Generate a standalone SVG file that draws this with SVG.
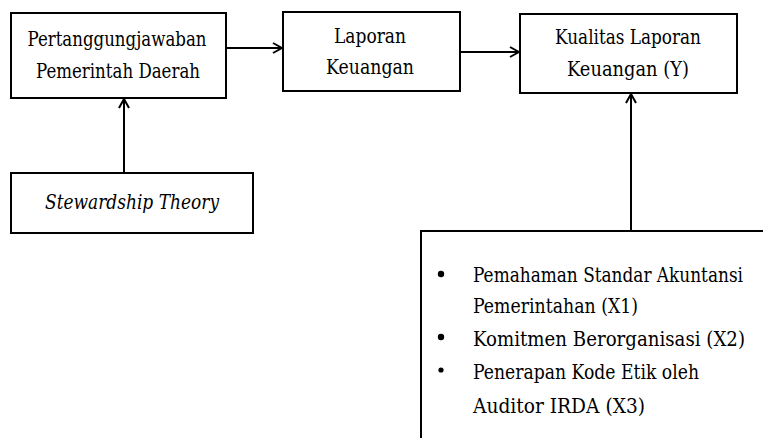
<svg xmlns="http://www.w3.org/2000/svg" width="763" height="438" viewBox="0 0 763 438">
<style>
.box{fill:#fff;stroke:#000;stroke-width:2}
.conn{fill:none;stroke:#000;stroke-width:2}
</style>
<defs>
<marker id="ah" viewBox="0 0 12 12" refX="11" refY="6" markerWidth="12" markerHeight="12" markerUnits="userSpaceOnUse" orient="auto">
<path d="M2,1 L11,6 L2,11" fill="none" stroke="#000" stroke-width="2"/>
</marker>
</defs>
<rect width="763" height="438" fill="#fff"/>
<g id="connectors">
<line class="conn" x1="226" y1="48" x2="282" y2="48" marker-end="url(#ah)"/>
<line class="conn" x1="460" y1="52" x2="519" y2="52" marker-end="url(#ah)"/>
<line class="conn" x1="124" y1="173" x2="124" y2="99" marker-end="url(#ah)"/>
<line class="conn" x1="631" y1="231" x2="631" y2="94" marker-end="url(#ah)"/>
</g>
<g font-family="'DejaVu Serif', 'Liberation Serif', serif" font-size="21" fill="#000">
<g id="node-pertanggungjawaban" text-anchor="middle">
<rect class="box" x="11" y="13" width="215" height="85"/>
<text x="117" y="46" textLength="179" lengthAdjust="spacingAndGlyphs">Pertanggungjawaban</text>
<text x="118" y="78" textLength="164" lengthAdjust="spacingAndGlyphs">Pemerintah Daerah</text>
</g>
<g id="node-laporan" text-anchor="middle">
<rect class="box" x="283" y="12" width="177" height="79"/>
<text x="370" y="43" textLength="72" lengthAdjust="spacingAndGlyphs">Laporan</text>
<text x="370" y="74" textLength="88" lengthAdjust="spacingAndGlyphs">Keuangan</text>
</g>
<g id="node-kualitas" text-anchor="middle">
<rect class="box" x="520" y="14" width="217" height="79"/>
<text x="628" y="44" textLength="146" lengthAdjust="spacingAndGlyphs">Kualitas Laporan</text>
<text x="628" y="76" textLength="122" lengthAdjust="spacingAndGlyphs">Keuangan (Y)</text>
</g>
<g id="node-stewardship" text-anchor="middle">
<rect class="box" x="11" y="173" width="242" height="60"/>
<text x="132" y="209" font-style="italic" textLength="174" lengthAdjust="spacingAndGlyphs">Stewardship Theory</text>
</g>
<g id="node-variabel">
<path class="conn" d="M421,438 L421,231 L763,231"/>
<circle cx="441" cy="274" r="3.2"/>
<circle cx="441" cy="337" r="3.2"/>
<circle cx="441" cy="370" r="2.6"/>
<text x="473" y="282" textLength="270" lengthAdjust="spacingAndGlyphs">Pemahaman Standar Akuntansi</text>
<text x="473" y="313" textLength="165" lengthAdjust="spacingAndGlyphs">Pemerintahan (X1)</text>
<text x="473" y="346" textLength="272" lengthAdjust="spacingAndGlyphs">Komitmen Berorganisasi (X2)</text>
<text x="473" y="379" textLength="226" lengthAdjust="spacingAndGlyphs">Penerapan Kode Etik oleh</text>
<text x="473" y="413" textLength="172" lengthAdjust="spacingAndGlyphs">Auditor IRDA (X3)</text>
</g>
</g>
</svg>
